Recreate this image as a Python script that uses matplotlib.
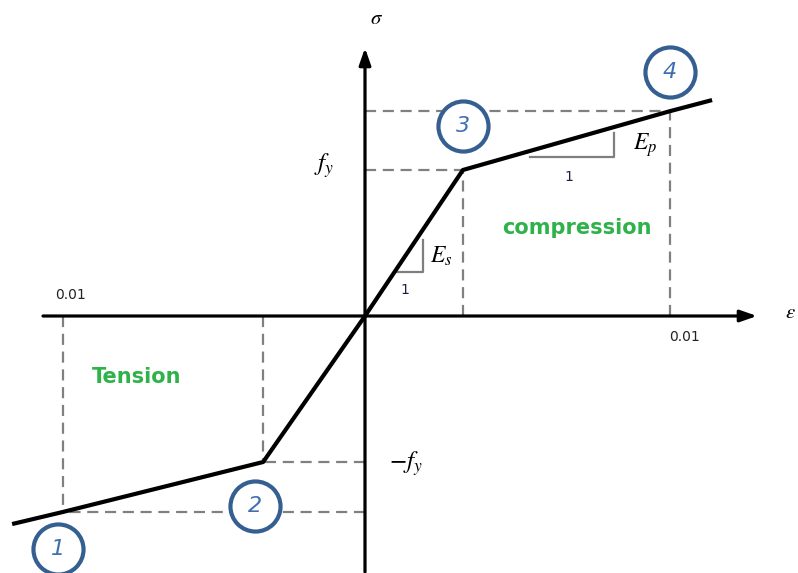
import matplotlib
matplotlib.use("Agg")
import matplotlib.pyplot as plt

plt.rcParams['mathtext.fontset'] = 'stix'

# ---- data (strain, stress/fy) ----
curve_strain = [-0.01157, -0.0099, -0.00334, 0.0, 0.00321, 0.0100, 0.01138]
curve_stress = [-1.425, -1.342, -1.0, 0.0, 1.0, 1.403, 1.479]
point_labels = ["1", "2", "3", "4"]
point_strain = [-0.0099, -0.00334, 0.00321, 0.0100]
point_stress = [-1.342, -1.0, 1.0, 1.403]
tick_label = "0.01"

# pixel mapping: origin (365,316), 0.01 strain = 305 px, fy = 146 px
ox, oy, sx, sy = 365.0, 316.0, 30500.0, 146.0
W, H = 798, 573

def X(px):
    return (px - ox) / sx

def Y(py):
    return (oy - py) / sy

fig = plt.figure(figsize=(W / 100, H / 100), dpi=100)
ax = fig.add_axes([0, 0, 1, 1])
ax.set_xlim(X(0), X(W))
ax.set_ylim(Y(H), Y(0))
ax.axis('off')

dash = dict(color='#808080', lw=1.6, ls=(0, (5, 3)))
# dashed guide lines
for e, s in zip(point_strain, point_stress):
    ax.plot([0, e], [s, s], **dash, zorder=1)
    ax.plot([e, e], [0, s], **dash, zorder=1)

# axes with arrows
ax.annotate('', xy=(X(757), 0), xytext=(X(43), 0),
            arrowprops=dict(arrowstyle='-|>,head_length=1.0,head_width=0.35', lw=2.3, color='black',
                            shrinkA=0, shrinkB=0), zorder=2)
ax.annotate('', xy=(0, Y(48)), xytext=(0, Y(572)),
            arrowprops=dict(arrowstyle='-|>,head_length=1.0,head_width=0.35', lw=2.3, color='black',
                            shrinkA=0, shrinkB=0), zorder=2)

# stress-strain curve
ax.plot(curve_strain, curve_stress, color='black', lw=3.0, solid_capstyle='butt', zorder=3)

# slope triangles
tri = dict(color='#7f7f7f', lw=1.6, zorder=2)
ax.plot([X(397), X(423), X(423)], [Y(272), Y(272), Y(240)], **tri)
ax.plot([X(530), X(614), X(614)], [Y(157), Y(157), Y(133)], **tri)

# labels
ax.text(X(377), Y(18), r'$\sigma$', fontsize=15, ha='center', va='center')
ax.text(X(790), Y(312), r'$\varepsilon$', fontsize=15, ha='center', va='center')
ax.text(X(324), Y(166), r'$f_y$', fontsize=18, ha='center', va='center')
ax.text(X(406), Y(464), r'$-f_y$', fontsize=18, ha='center', va='center')
ax.text(X(441), Y(256), r'$E_s$', fontsize=17, ha='center', va='center')
ax.text(X(645), Y(145), r'$E_p$', fontsize=17, ha='center', va='center')
ax.text(X(405), Y(290), '1', fontsize=10, ha='center', va='center', color='#1f1f3f')
ax.text(X(569), Y(177), '1', fontsize=10, ha='center', va='center', color='#1f1f3f')
ax.text(X(71), Y(295), tick_label, fontsize=10, ha='center', va='center', color='#222222')
ax.text(X(685), Y(337), tick_label, fontsize=10, ha='center', va='center', color='#222222')
ax.text(X(137), Y(377), 'Tension', fontsize=15, fontweight='bold', ha='center', va='center',
        color='#2fb24a')
ax.text(X(577), Y(228), 'compression', fontsize=15, fontweight='bold', ha='center', va='center',
        color='#2fb24a')

# numbered circles
circle_px = [(58, 549), (255, 506), (463, 126), (670, 72)]
for lab, (cx, cy) in zip(point_labels, circle_px):
    ax.scatter([X(cx)], [Y(cy)], s=1300, facecolors='white', edgecolors='#355f91',
               linewidths=3.0, zorder=4)
    ax.text(X(cx), Y(cy), lab, fontsize=16, fontstyle='italic', ha='center', va='center',
            color='#3f6fb0', zorder=5)

fig.savefig('out.png', dpi=100)
